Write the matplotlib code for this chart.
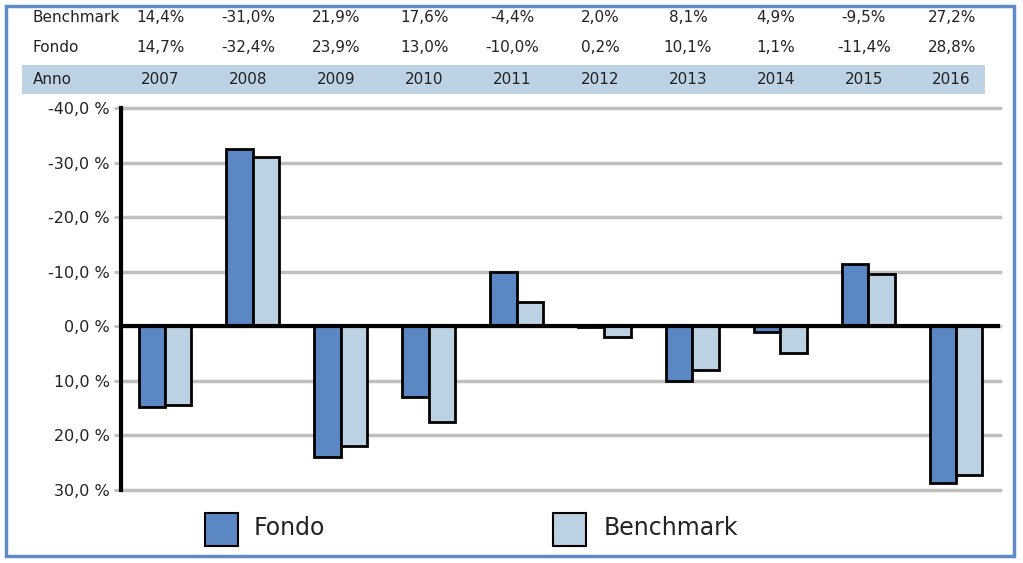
import matplotlib.pyplot as plt
import matplotlib.transforms as mtransforms
from matplotlib.patches import Rectangle
import numpy as np

anni = ["2007", "2008", "2009", "2010", "2011", "2012", "2013", "2014", "2015", "2016"]
fondo = [14.7, -32.4, 23.9, 13.0, -10.0, 0.2, 10.1, 1.1, -11.4, 28.8]
benchmark = [14.4, -31.0, 21.9, 17.6, -4.4, 2.0, 8.1, 4.9, -9.5, 27.2]
y_ticks = [-40, -30, -20, -10, 0, 10, 20, 30]

c_fondo = "#5b87c5"
c_bench = "#bcd1e2"
c_band = "#bdd3e4"
c_frame = "#5f8ac7"

W, H = 1023, 563
fig = plt.figure(figsize=(W / 100, H / 100), dpi=100)
plt.rcParams['font.family'] = ['DejaVu Sans']


def fx(px):
    return px / W


def fy(py):
    return 1 - py / H


# outer frame
fig.patches.append(Rectangle((fx(6), fy(556)), fx(1014) - fx(6), fy(6) - fy(556),
                             transform=fig.transFigure, fill=False, edgecolor=c_frame, lw=2.5))
# Anno band
fig.patches.append(Rectangle((fx(22), fy(94)), fx(985) - fx(22), fy(65) - fy(94),
                             transform=fig.transFigure, facecolor=c_band, edgecolor="none"))

ax = fig.add_axes([fx(121), fy(490), fx(1000) - fx(121), fy(108) - fy(490)])
x = np.arange(len(anni))
w = 0.3
ax.bar(x - w / 2, fondo, w, color=c_fondo, edgecolor="black", lw=2, zorder=3)
ax.bar(x + w / 2, benchmark, w, color=c_bench, edgecolor="black", lw=2, zorder=3)
ax.set_xlim(-0.5, len(anni) - 0.5)
ax.set_ylim(30, -40)
ax.set_yticks(y_ticks)
ax.set_yticklabels([f"{v},0 %" for v in y_ticks], fontsize=11.5, color="#222222")
for v in y_ticks:
    ax.axhline(v, color="#bfbfbf", lw=2.5, zorder=1, clip_on=False)
ax.axhline(0, color="black", lw=3, zorder=4)
ax.set_xticks([])
for s in ["top", "right", "bottom"]:
    ax.spines[s].set_visible(False)
ax.spines["left"].set_linewidth(3)
ax.spines["left"].set_zorder(5)
ax.tick_params(axis="y", length=5, width=2, color="#bfbfbf", pad=3)

# table rows above the chart
tr = mtransforms.blended_transform_factory(ax.transData, fig.transFigure)
fig.text(fx(33), fy(18), "Benchmark", fontsize=11, va="center", ha="left", color="#222222")
fig.text(fx(33), fy(48), "Fondo", fontsize=11, va="center", ha="left", color="#222222")
fig.text(fx(33), fy(80), "Anno", fontsize=11, va="center", ha="left", color="#222222")
for i in range(len(anni)):
    fig.text(x[i] - 0.05, fy(18), f"{benchmark[i]:.1f}%".replace(".", ","), transform=tr,
             fontsize=11, va="center", ha="center", color="#222222")
    fig.text(x[i] - 0.05, fy(48), f"{fondo[i]:.1f}%".replace(".", ","), transform=tr,
             fontsize=11, va="center", ha="center", color="#222222")
    fig.text(x[i] - 0.05, fy(80), anni[i], transform=tr,
             fontsize=11, va="center", ha="center", color="#222222")

# legend
fig.patches.append(Rectangle((fx(205), fy(546)), fx(238) - fx(205), fy(513) - fy(546),
                             transform=fig.transFigure, facecolor=c_fondo, edgecolor="black", lw=1.5))
fig.text(fx(254), fy(528), "Fondo", fontsize=17, va="center", ha="left", color="#222222")
fig.patches.append(Rectangle((fx(553), fy(546)), fx(586) - fx(553), fy(513) - fy(546),
                             transform=fig.transFigure, facecolor=c_bench, edgecolor="black", lw=1.5))
fig.text(fx(604), fy(528), "Benchmark", fontsize=17, va="center", ha="left", color="#222222")

fig.savefig("out.png", dpi=100)
